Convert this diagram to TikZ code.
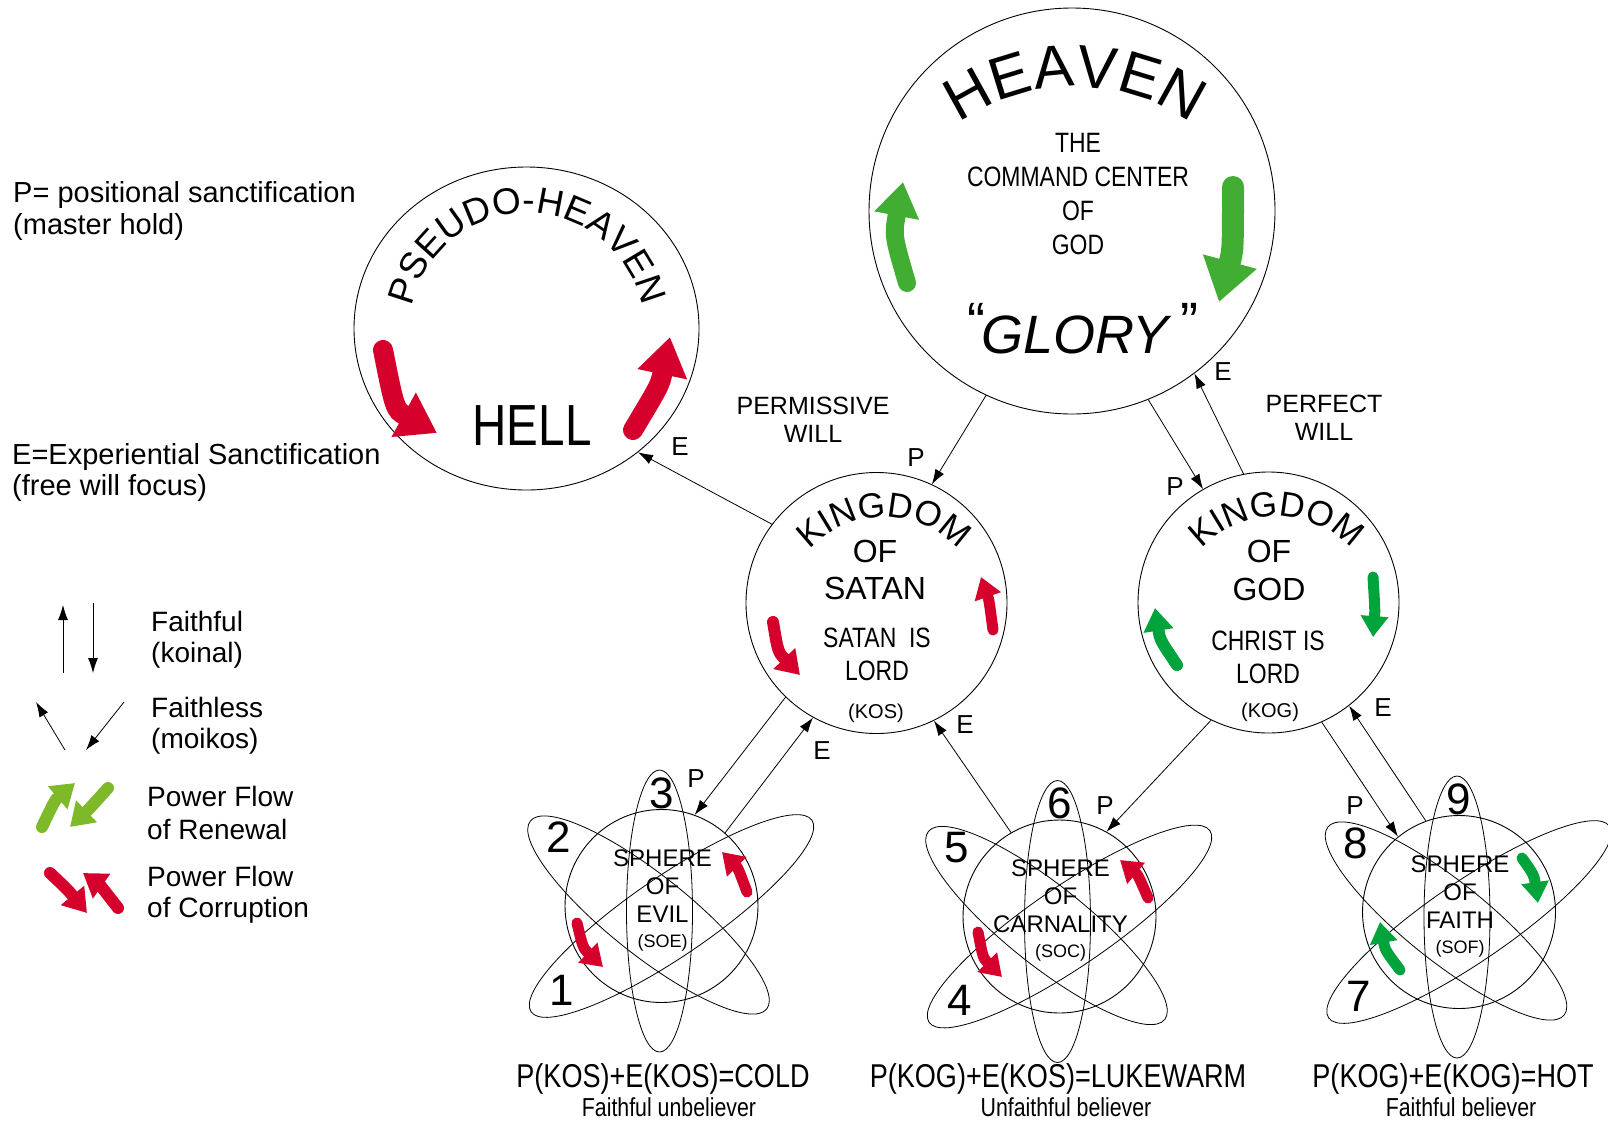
\documentclass[tikz,border=0pt]{standalone}
\usepackage{fontspec}
\setmainfont{Liberation Sans}
\newfontfamily\narrowfont{Liberation Sans}[FakeStretch=0.82]
\usetikzlibrary{arrows.meta,shapes.geometric,decorations.text,calc}

\definecolor{heavengreen}{RGB}{65,173,50}
\definecolor{kinggreen}{RGB}{0,163,60}
\definecolor{renewgreen}{RGB}{125,185,40}
\definecolor{corruptred}{RGB}{214,0,45}

\newcommand{\fsize}[2]{\fontsize{#1}{#2}\selectfont}
\newcommand{\heavenfont}{\fontsize{60}{60}\selectfont}
\newcommand{\pseudofont}{\fontsize{37}{37}\selectfont}
\newcommand{\kingfont}{\fontsize{35}{35}\selectfont}

\begin{document}
\begin{tikzpicture}[x=1pt,y=-1pt,
  realm/.style={draw,circle,line width=0.9pt,inner sep=0pt},
  link/.style={line width=0.8pt,-{Latex[length=15pt,width=10pt]}},
  tag/.style={font=\fsize{26}{26},inner sep=0pt},
  legend/.style={align=left,anchor=west,inner sep=0pt},
  power/.style={line width=#1,line cap=round,-{Triangle[length=0pt 1.9,width=0pt 2.4]}},
  orbit/.style={line width=0.8pt}]
\useasboundingbox (0,0) rectangle (1608,1120);

% realms
\node[realm,minimum size=406pt] (heaven) at (1072,211) {};
\node[realm,ellipse,minimum width=345pt,minimum height=323pt] (pseudo) at (526.5,328.5) {};
\node[realm,minimum size=261pt] (kos) at (876.5,603) {};
\node[realm,minimum size=261pt] (kog) at (1268.5,602.5) {};
\foreach \name/\pos in {soe/{(661.5,906)},soc/{(1059.5,916.5)},sof/{(1459,912)}}
  \node[realm,minimum size=193pt] (\name) at \pos {};

% orbits round the spheres
\foreach \name in {soe,soc,sof}{
  \begin{scope}[shift={(\name.center)},orbit]
    \draw (-2,5) ellipse[x radius=33,y radius=141];
    \draw[rotate around={-38.5:(-13,9)}] (-13,9) ellipse[x radius=151,y radius=40];
    \draw[rotate around={34.3:(10,10)}] (10,10) ellipse[x radius=170,y radius=40];
  \end{scope}
}

% P and E connectors
\draw[link] (heaven.-115) -- (kos.65);
\draw[link] (heaven.-68) -- (kog.120);
\draw[link] (kog.101) -- (heaven.-53);
\draw[link] (kos.143) -- (pseudo.-48);
\draw[link] (kos.-134) -- (soe.70);
\draw[link] (soe.49) -- (kos.-119);
\draw[link] (soc.120) -- (kos.-64);
\draw[link] (kog.-116) -- (soc.61);
\draw[link] (kog.-66) -- (sof.129);
\draw[link] (sof.110) -- (kog.-52);

\node[tag] (p1) at (916,458) {P};
\node[tag] (p2) at (1175,487) {P};
\node[tag] (p3) at (696,779) {P};
\node[tag] (p4) at (1105,806) {P};
\node[tag] (p5) at (1355,806) {P};
\node[tag] (e1) at (680,447) {E};
\node[tag] (e2) at (1223,372) {E};
\node[tag] (e3) at (822,751) {E};
\node[tag] (e4) at (965,725) {E};
\node[tag] (e5) at (1383,708) {E};

\node[font=\fsize{25}{28},align=center] (permissive) at (813,420) {PERMISSIVE\\WILL};
\node[font=\fsize{25}{28},align=center] (perfect) at (1324,418) {PERFECT\\WILL};

% power flows
\draw[heavengreen,power=18pt] (907,283) .. controls (893,235) .. (903,182);
\draw[heavengreen,power=22pt] (1233,187) .. controls (1233,250) .. (1219,302);
\draw[corruptred,power=20pt] (383,350) .. controls (395,410) .. (437,433);
\draw[corruptred,power=20pt] (633,430) .. controls (660,385) .. (670,337);
\draw[corruptred,power=12pt] (773,622) .. controls (778,652) .. (800,675);
\draw[corruptred,power=11pt] (993,630) .. controls (989,600) .. (981,577);
\draw[kinggreen,power=11pt] (1373,577) .. controls (1375,610) .. (1373,637);
\draw[kinggreen,power=12pt] (1177,665) .. controls (1160,640) .. (1155,608);
\draw[corruptred,power=11pt] (577,923) .. controls (583,948) .. (603,967);
\draw[corruptred,power=11pt] (747,892) .. controls (738,868) .. (722,852);
\draw[corruptred,power=11pt] (978,932) .. controls (983,958) .. (1002,977);
\draw[corruptred,power=11pt] (1148,898) .. controls (1138,875) .. (1120,860);
\draw[kinggreen,power=11pt] (1522,858) .. controls (1534,875) .. (1538,903);
\draw[kinggreen,power=11pt] (1400,970) .. controls (1385,950) .. (1380,922);

% texts in the realms
\path[decorate,decoration={text along path,text align=center,text={|\heavenfont|HEAVEN}}]
  ($(heaven)+(3,78)+(-126:202)$) arc[start angle=-126,end angle=-54,radius=202];
\node[font=\narrowfont\fsize{28}{34},align=center] (command) at (1078,194) {THE\\COMMAND CENTER\\OF\\GOD};
\node[font=\fsize{54}{54},anchor=base] (glory) at (1083,353) {\raisebox{13pt}{“}\kern-4pt\textit{GLORY}\kern8pt\raisebox{13pt}{”}};

\path[decorate,decoration={text along path,text align=center,text={|\pseudofont|PSEUDO-HEAVEN}}]
  ($(pseudo)+(0.5,2.5)+(-170:118)$) arc[start angle=-170,end angle=-10,radius=118];
\node[font=\narrowfont\fsize{58}{58},anchor=base] (hell) at (532,445) {HELL};

\foreach \name in {kos,kog}
  \path[decorate,decoration={text along path,text align=center,text={|\kingfont|KINGDOM}}]
    ($(\name)+(8,15)+(-140:101)$) arc[start angle=-140,end angle=-40,radius=101];
\node[font=\fsize{32}{37},align=center] (kos-name) at (875,570) {OF\\SATAN};
\node[font=\narrowfont\fsize{28}{33},align=center] (kos-lord) at (877,654) {SATAN\ \ IS\\LORD};
\node[font=\fsize{20}{20},anchor=base] (kos-abbr) at (876,718) {(KOS)};
\node[font=\fsize{32}{38},align=center] (kog-name) at (1269,570) {OF\\GOD};
\node[font=\narrowfont\fsize{28}{33},align=center] (kog-lord) at (1268,657) {CHRIST IS\\LORD};
\node[font=\fsize{20}{20},anchor=base] (kog-abbr) at (1270,717) {(KOG)};

\foreach \name/\word/\abbr in {soe/EVIL/SOE,soc/CARNALITY/SOC,sof/FAITH/SOF}{
  \node[font=\fsize{24}{28},align=center,inner sep=0pt] (\name-text) at ($(\name)+(1,-20)$) {SPHERE\\OF\\\word};
  \node[font=\fsize{18}{18},anchor=base,inner sep=0pt] (\name-abbr) at ($(\name)+(1,41)$) {(\abbr)};
}
\foreach \name/\a/\b/\c in {soe/1/2/3,soc/4/5/6,sof/7/8/9}{
  \node[font=\fsize{44}{44}] (num\a) at ($(\name)+(-100,84)$) {\a};
  \node[font=\fsize{44}{44}] (num\b) at ($(\name)+(-103,-69)$) {\b};
  \node[font=\fsize{44}{44}] (num\c) at ($(\name)+(0,-113)$) {\c};
}

% results
\node[font=\narrowfont\fsize{33}{33},anchor=base] (cold) at (663,1087) {P(KOS)+E(KOS)=COLD};
\node[font=\narrowfont\fsize{26}{26},anchor=base] (cold-who) at (669,1116) {Faithful unbeliever};
\node[font=\narrowfont\fsize{33}{33},anchor=base] (luke) at (1058,1087) {P(KOG)+E(KOS)=LUKEWARM};
\node[font=\narrowfont\fsize{26}{26},anchor=base] (luke-who) at (1066,1116) {Unfaithful believer};
\node[font=\narrowfont\fsize{33}{33},anchor=base] (hot) at (1453,1087) {P(KOG)+E(KOG)=HOT};
\node[font=\narrowfont\fsize{26}{26},anchor=base] (hot-who) at (1461,1116) {Faithful believer};

% legend
\node[legend,font=\fsize{29}{32}] (posdef) at (13,211) {P= positional sanctification\\(master hold)};
\node[legend,font=\fsize{29}{31}] (expdef) at (12,472) {E=Experiential Sanctification\\(free will focus)};
\draw[link] (63,673) -- (63,605);
\draw[link] (93,603) -- (93,673);
\draw[link] (65,750) -- (36,702);
\draw[link] (124,702) -- (86,750);
\draw[renewgreen,power=12pt] (42,827) .. controls (55,800) .. (75,783);
\draw[renewgreen,power=12pt] (108,788) .. controls (90,808) .. (70,827);
\draw[corruptred,power=12pt] (50,873) .. controls (68,890) .. (87,913);
\draw[corruptred,power=12pt] (118,908) .. controls (100,885) .. (83,873);
\node[legend,font=\fsize{28}{31}] (faithful) at (151,640) {Faithful\\(koinal)};
\node[legend,font=\fsize{28}{31}] (faithless) at (151,726) {Faithless\\(moikos)};
\node[legend,font=\fsize{28}{33}] (renewal) at (147,813) {Power Flow\\of Renewal};
\node[legend,font=\fsize{28}{31}] (corruption) at (147,895) {Power Flow\\of Corruption};
\end{tikzpicture}
\end{document}
